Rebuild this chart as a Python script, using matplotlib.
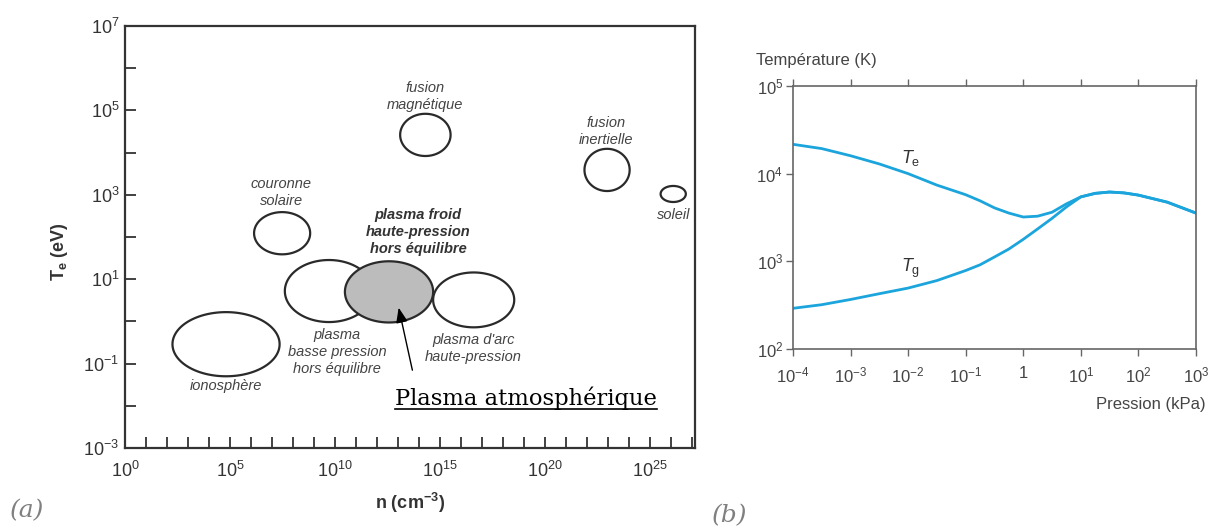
import numpy as np
import matplotlib
matplotlib.use("Agg")
import matplotlib.pyplot as plt
from matplotlib.lines import Line2D

plt.rcParams['font.family'] = ['Liberation Sans', 'DejaVu Sans']
plt.rcParams['mathtext.fontset'] = 'custom'
plt.rcParams['mathtext.rm'] = 'Liberation Sans'
plt.rcParams['mathtext.it'] = 'Liberation Sans:italic'
plt.rcParams['mathtext.bf'] = 'Liberation Sans:bold'
plt.rcParams['mathtext.default'] = 'regular'

# ---- panel (a): plasma domains, centre / size in decades (log10) ----
region_names = ['ionosphère', 'couronne solaire', 'basse pression', 'plasma froid',
                'arc', 'fusion magnétique', 'fusion inertielle', 'soleil']
region_logn = [4.81, 7.48, 9.71, 12.57, 16.6, 14.3, 22.95, 26.1]
region_logT = [-0.54, 2.09, 0.72, 0.70, 0.51, 4.42, 3.59, 3.02]
region_wn = [5.1, 2.67, 4.2, 4.2, 3.86, 2.4, 2.15, 1.2]
region_hT = [1.52, 1.0, 1.47, 1.45, 1.3, 1.0, 1.0, 0.38]
region_shaded = [False, False, False, True, False, False, False, False]

labels_a = ['fusion\nmagnétique', 'fusion\ninertielle', 'soleil', 'couronne\nsolaire',
            'plasma\nbasse pression\nhors équilibre', "plasma d'arc\nhaute-pression", 'ionosphère']
labels_a_logn = [14.3, 22.9, 26.1, 7.43, 10.1, 16.6, 4.81]
labels_a_logT = [5.33, 4.5, 2.52, 3.05, -0.725, -0.64, -1.53]

# ---- panel (b): temperatures vs pressure ----
pression = [1e-4, 10**-3.5, 1e-3, 10**-2.5, 1e-2, 10**-1.5, 1e-1, 10**-0.75, 10**-0.5,
            10**-0.25, 1, 10**0.25, 10**0.5, 10**0.75, 10, 10**1.25, 10**1.5, 10**1.75,
            100, 10**2.5, 1000]
T_e = [21600, 19300, 16000, 12900, 10000, 7400, 5750, 4900, 4070, 3550, 3200, 3270,
       3630, 4520, 5430, 5960, 6170, 6030, 5690, 4730, 3550]
T_g = [291, 320, 367, 427, 495, 603, 785, 912, 1120, 1380, 1780, 2340, 3090, 4170,
       5430, 5960, 6170, 6030, 5690, 4730, 3550]

fig = plt.figure(figsize=(12.16, 5.29), dpi=100)

# ================= (a) =================
ax = fig.add_axes([0.1028, 0.1531, 0.4688, 0.7977])
ax.set_xscale('log')
ax.set_yscale('log')
ax.set_xlim(1, 10**27.14)
ax.set_ylim(1e-3, 1e7)

t = np.linspace(0, 2 * np.pi, 300)
for cx, cy, w, h, sh in zip(region_logn, region_logT, region_wn, region_hT, region_shaded):
    xs = 10 ** (cx + w / 2 * np.cos(t))
    ys = 10 ** (cy + h / 2 * np.sin(t))
    if sh:
        ax.fill(xs, ys, facecolor='#bcbcbc', edgecolor='#2a2a2a', lw=1.6, zorder=3)
    else:
        ax.fill(xs, ys, facecolor='white', edgecolor='#2a2a2a', lw=1.6, zorder=2)

for txt, lx, ly in zip(labels_a, labels_a_logn, labels_a_logT):
    ax.text(10 ** lx, 10 ** ly, txt, ha='center', va='center', style='italic',
            fontsize=10.5, color='#444444', linespacing=1.25, zorder=4)

ax.text(10 ** 13.95, 10 ** 2.12, 'plasma froid\nhaute-pression\nhors équilibre',
        ha='center', va='center', style='italic', weight='bold', fontsize=10.5,
        color='#333333', linespacing=1.25, zorder=4)

ax.annotate('', xy=(10 ** 13.0, 10 ** 0.39), xytext=(10 ** 13.71, 10 ** -1.22),
            arrowprops=dict(arrowstyle='-|>,head_length=0.9,head_width=0.35',
                            color='black', lw=1.0), zorder=5)
atm = ax.text(10 ** 19.1, 10 ** -1.815, 'Plasma atmosphérique', ha='center', va='center',
              fontsize=16.3, family='DejaVu Serif', color='black', zorder=5)

xt = [10.0 ** k for k in range(0, 28)]
ax.set_xticks(xt)
ax.set_xticklabels(['$10^{%d}$' % k if k % 5 == 0 else '' for k in range(0, 28)])
yt = [10.0 ** k for k in range(-3, 8)]
ax.set_yticks(yt)
ax.set_yticklabels(['$10^{%d}$' % k if k % 2 == 1 else '' for k in range(-3, 8)])
ax.minorticks_off()
ax.tick_params(axis='both', direction='in', length=8, width=1.3, colors='#333333',
               labelsize=13, labelcolor='#333333')
ax.tick_params(axis='x', pad=9)
ax.tick_params(axis='y', pad=4)
for s in ax.spines.values():
    s.set_linewidth(1.6)
    s.set_color('#333333')

fig.text(60 / 1216, 1 - 252 / 529, r'$\mathbf{T_e}$ (eV)', rotation=90, ha='center',
         va='center', fontsize=13, weight='bold', color='#333333')
fig.text(410 / 1216, 1 - 503 / 529, r'n (cm$^\mathbf{-3}$)', ha='center', va='center',
         fontsize=13, weight='bold', color='#333333')
fig.text(10 / 1216, 1 - 511 / 529, '(a)', ha='left', va='center', fontsize=18,
         style='italic', family='DejaVu Serif', color='#808080')

# ================= (b) =================
bx = fig.add_axes([0.6521, 0.3403, 0.3314, 0.4972])
bx.plot(pression, T_e, color='#1ba5dc', lw=2.0)
bx.plot(pression, T_g, color='#1ba5dc', lw=2.0)
bx.set_xscale('log')
bx.set_yscale('log')
bx.set_xlim(1e-4, 1e3)
bx.set_ylim(1e2, 1e5)
bx.set_xticks([10.0 ** k for k in range(-4, 4)])
bx.set_xticklabels(['$10^{-4}$', '$10^{-3}$', '$10^{-2}$', '$10^{-1}$', '1',
                    '$10^{1}$', '$10^{2}$', '$10^{3}$'])
bx.set_yticks([1e2, 1e3, 1e4, 1e5])
bx.set_yticklabels(['$10^{2}$', '$10^{3}$', '$10^{4}$', '$10^{5}$'])
bx.minorticks_off()
bx.tick_params(axis='both', direction='out', length=5, width=1.0, colors='#666666',
               labelsize=12, labelcolor='#444444')
bx.tick_params(axis='x', top=True, pad=7)
bx.tick_params(axis='y', pad=2)
for s in bx.spines.values():
    s.set_linewidth(1.2)
    s.set_color('#666666')

bx.text(10 ** -1.95, 10 ** 4.18, r'$\mathit{T}_{e}$', fontsize=13, color='#333333',
        ha='center', va='center')
bx.text(10 ** -1.95, 10 ** 2.92, r'$\mathit{T}_{g}$', fontsize=13, color='#333333',
        ha='center', va='center')

fig.text(756 / 1216, 1 - 60 / 529, 'Température (K)', ha='left', va='center',
         fontsize=12, color='#444444')
fig.text(1206 / 1216, 1 - 404 / 529, 'Pression (kPa)', ha='right', va='center',
         fontsize=12, color='#444444')
fig.text(712 / 1216, 1 - 516 / 529, '(b)', ha='left', va='center', fontsize=18,
         style='italic', family='DejaVu Serif', color='#808080')

# underline for "Plasma atmosphérique"
fig.canvas.draw()
bb = atm.get_window_extent().transformed(fig.transFigure.inverted())
fig.add_artist(Line2D([bb.x0, bb.x1], [bb.y0 + 0.002, bb.y0 + 0.002],
                      transform=fig.transFigure, color='black', lw=1.2))

fig.savefig('out.png', dpi=100)
